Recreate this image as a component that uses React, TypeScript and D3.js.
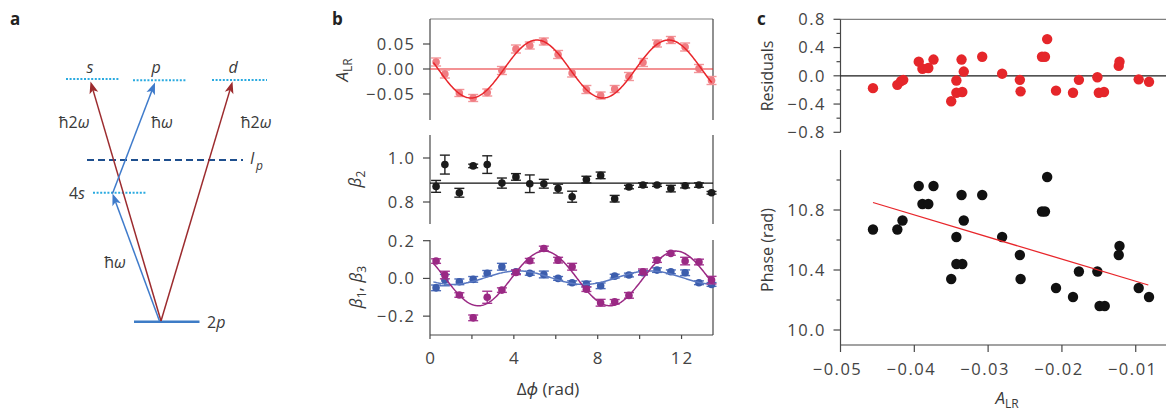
import React from "react"
import * as d3 from "d3"

// ---- panel b: phase delay (rad), shared by the three rows
const dphi = [0.29, 0.71, 1.4, 2.06, 2.73, 3.43, 4.1, 4.76, 5.43, 6.11, 6.78, 7.46, 8.14, 8.81, 9.49, 10.16, 10.83, 11.49, 12.17, 12.83, 13.43]

const aLR = [0.014, -0.01, -0.048, -0.058, -0.047, -0.003, 0.04, 0.047, 0.055, 0.029, -0.008, -0.041, -0.053, -0.04, -0.015, 0.013, 0.051, 0.058, 0.044, 0.001, -0.023]
const aLRErr = [0.008, 0.008, 0.007, 0.007, 0.007, 0.008, 0.008, 0.007, 0.007, 0.008, 0.008, 0.008, 0.007, 0.007, 0.008, 0.008, 0.007, 0.007, 0.008, 0.008, 0.008]

const beta2 = [0.871, 0.97, 0.842, 0.964, 0.97, 0.886, 0.914, 0.883, 0.883, 0.861, 0.824, 0.902, 0.921, 0.815, 0.868, 0.877, 0.877, 0.861, 0.874, 0.877, 0.842]
const beta2Err = [0.027, 0.043, 0.02, 0.008, 0.04, 0.023, 0.015, 0.04, 0.02, 0.02, 0.025, 0.015, 0.015, 0.015, 0.008, 0.01, 0.006, 0.015, 0.01, 0.01, 0.006]

const beta3 = [0.092, 0.018, -0.088, -0.209, -0.1, -0.062, 0.032, 0.094, 0.159, 0.097, 0.062, -0.057, -0.129, -0.124, -0.09, 0.035, 0.097, 0.133, 0.092, 0.087, -0.009]
const beta3Err = [0.012, 0.02, 0.012, 0.015, 0.032, 0.012, 0.012, 0.012, 0.012, 0.015, 0.018, 0.012, 0.018, 0.012, 0.015, 0.015, 0.012, 0.01, 0.02, 0.015, 0.02]

const beta1 = [-0.05, -0.009, -0.018, -0.005, 0.027, 0.062, 0.035, 0.027, 0.021, 0.0, -0.023, -0.03, -0.039, 0.012, 0.018, 0.03, 0.044, 0.035, 0.03, -0.023, -0.032]
const beta1Err = [0.015, 0.03, 0.015, 0.015, 0.015, 0.018, 0.01, 0.01, 0.018, 0.01, 0.01, 0.015, 0.015, 0.01, 0.01, 0.012, 0.012, 0.01, 0.015, 0.01, 0.01]

// fitted cosines: amp * cos(x - peak) + offset
const aLRFit = { amp: 0.058, peak: 5.1, offset: 0 }
const beta3Fit = { amp: 0.145, peak: 5.45, offset: 0 }
const beta1Fit = { amp: 0.036, peak: 4.2, offset: 0.004 }
const beta2Mean = 0.886

// ---- panel c
const alrC = [-0.0456, -0.0423, -0.0416, -0.0394, -0.0389, -0.0381, -0.0374, -0.035, -0.0343, -0.0343, -0.0335, -0.0336, -0.0333, -0.0308, -0.0281, -0.0257, -0.0256, -0.0227, -0.0223, -0.022, -0.0208, -0.0185, -0.0177, -0.0152, -0.0149, -0.0142, -0.0123, -0.0122, -0.0096, -0.0082]
const phase = [10.67, 10.67, 10.73, 10.96, 10.84, 10.84, 10.96, 10.34, 10.62, 10.44, 10.44, 10.9, 10.73, 10.9, 10.62, 10.5, 10.34, 10.79, 10.79, 11.02, 10.28, 10.22, 10.39, 10.39, 10.16, 10.16, 10.5, 10.56, 10.28, 10.22]
const residX = [-0.0456, -0.0423, -0.0418, -0.0415, -0.0394, -0.0389, -0.0381, -0.0374, -0.035, -0.0343, -0.0343, -0.0335, -0.0336, -0.0333, -0.0308, -0.0281, -0.0257, -0.0256, -0.0227, -0.0223, -0.022, -0.0208, -0.0185, -0.0177, -0.0152, -0.015, -0.0143, -0.0123, -0.0122, -0.0096, -0.0082]
const resid = [-0.175, -0.128, -0.076, -0.057, 0.2, 0.1, 0.11, 0.23, -0.36, -0.066, -0.24, -0.23, 0.23, 0.06, 0.27, 0.03, -0.057, -0.22, 0.27, 0.27, 0.52, -0.21, -0.24, -0.057, -0.02, -0.24, -0.23, 0.14, 0.2, -0.05, -0.085]
const phaseFitX = [-0.0456, -0.0083]
const phaseFitY = [10.85, 10.3]

const FONT = "'Open Sans', 'Noto Sans', sans-serif"
const INK = "#3a3a3a"
const TICK = "#444"
const AXIS = "#474747"
const TS = 16.5 // tick label size
const LS = 1.5 // tick label tracking

function YAxis({ scale, x, ticks, minor = [], fmt, y0, y1 }) {
	return (
		<g>
			<line x1={x} x2={x} y1={y0} y2={y1} stroke={AXIS} strokeWidth={1.2} />
			{ticks.map((t) => (
				<g key={t}>
					<line x1={x - 7} x2={x} y1={scale(t)} y2={scale(t)} stroke={AXIS} strokeWidth={1.2} />
					<text
						x={x - 16 + LS}
						y={scale(t)}
						dy="0.36em"
						textAnchor="end"
						fontSize={TS}
						letterSpacing={LS}
						fill={TICK}
						fontFamily={FONT}
					>
						{fmt(t)}
					</text>
				</g>
			))}
			{minor.map((t) => (
				<line key={"m" + t} x1={x - 4} x2={x} y1={scale(t)} y2={scale(t)} stroke={AXIS} strokeWidth={1.2} />
			))}
		</g>
	)
}

function ErrorPoints({ xs, ys, errs, xScale, yScale, color, barColor, r = 3.8 }) {
	return (
		<g>
			{xs.map((x, i) => {
				const cx = xScale(x)
				const top = yScale(ys[i] + errs[i])
				const bot = yScale(ys[i] - errs[i])
				return (
					<g key={i}>
						<line x1={cx} x2={cx} y1={top} y2={bot} stroke={barColor} strokeWidth={1.4} />
						<line x1={cx - 5} x2={cx + 5} y1={top} y2={top} stroke={barColor} strokeWidth={1.4} />
						<line x1={cx - 5} x2={cx + 5} y1={bot} y2={bot} stroke={barColor} strokeWidth={1.4} />
						<circle cx={cx} cy={yScale(ys[i])} r={r} fill={color} />
					</g>
				)
			})}
		</g>
	)
}

function fitPath(fit, xScale, yScale) {
	const xs = d3.range(0.16, 13.47, 0.04)
	return d3
		.line()
		.x((d) => xScale(d))
		.y((d) => yScale(fit.amp * Math.cos(d - fit.peak) + fit.offset))(xs)
}

function Arrow({ x1, y1, x2, y2, color }) {
	const ang = Math.atan2(y2 - y1, x2 - x1)
	const len = 12
	const hw = 4.5
	const bx = x2 - len * Math.cos(ang)
	const by = y2 - len * Math.sin(ang)
	const nx = x2 - (len - 3) * Math.cos(ang)
	const ny = y2 - (len - 3) * Math.sin(ang)
	const px = -Math.sin(ang) * hw
	const py = Math.cos(ang) * hw
	return (
		<g>
			<line x1={x1} y1={y1} x2={nx} y2={ny} stroke={color} strokeWidth={1.5} />
			<path d={`M${x2},${y2} L${bx + px},${by + py} L${nx},${ny} L${bx - px},${by - py} Z`} fill={color} />
		</g>
	)
}

function PanelA() {
	const red = "#9C2B2E"
	const blue = "#3F7BCB"
	const dotted = "#2AAAE0"
	const lbl = { fontFamily: FONT, fontSize: 16, fill: INK }
	return (
		<g>
			<text x={10} y={25} fontFamily={FONT} fontWeight="bold" fontSize={17} fill="#222">a</text>
			{/* levels */}
			<line x1={66} x2={120} y1={79} y2={79} stroke={dotted} strokeWidth={2} strokeDasharray="2,1.6" />
			<line x1={133} x2={187} y1={80.3} y2={80.3} stroke={dotted} strokeWidth={2} strokeDasharray="2,1.6" />
			<line x1={212} x2={267} y1={80} y2={80} stroke={dotted} strokeWidth={2} strokeDasharray="2,1.6" />
			<line x1={93} x2={147} y1={192.7} y2={192.7} stroke={dotted} strokeWidth={2} strokeDasharray="2,1.6" />
			<line x1={87} x2={243} y1={160} y2={160} stroke="#1E4F8E" strokeWidth={2} strokeDasharray="7,4" />
			<line x1={134} x2={199.5} y1={321.7} y2={321.7} stroke="#3E7CC6" strokeWidth={2.6} />
			{/* transitions */}
			<Arrow x1={161} y1={321} x2={90.5} y2={81.5} color={red} />
			<Arrow x1={161} y1={321} x2={232.5} y2={81.5} color={red} />
			<Arrow x1={159.5} y1={321} x2={112.5} y2={193.5} color={blue} />
			<Arrow x1={112.5} y1={193.5} x2={155} y2={82.5} color={blue} />
			{/* labels */}
			<text x={90} y={73} textAnchor="middle" fontStyle="italic" {...lbl}>s</text>
			<text x={156} y={73} textAnchor="middle" fontStyle="italic" {...lbl}>p</text>
			<text x={233} y={73} textAnchor="middle" fontStyle="italic" {...lbl}>d</text>
			<text x={74} y={128} textAnchor="middle" {...lbl}>ħ2<tspan fontStyle="italic">ω</tspan></text>
			<text x={162} y={128} textAnchor="middle" {...lbl}>ħ<tspan fontStyle="italic">ω</tspan></text>
			<text x={256} y={128} textAnchor="middle" {...lbl}>ħ2<tspan fontStyle="italic">ω</tspan></text>
			<text x={115} y={268} textAnchor="middle" {...lbl}>ħ<tspan fontStyle="italic">ω</tspan></text>
			<text x={250} y={164} fontStyle="italic" {...lbl}>I</text>
			<text x={256} y={170} fontStyle="italic" {...lbl} fontSize={12}>p</text>
			<text x={85} y={199} textAnchor="end" {...lbl}>4<tspan fontStyle="italic">s</tspan></text>
			<text x={207} y={328} {...lbl}>2<tspan fontStyle="italic">p</tspan></text>
		</g>
	)
}

function PanelB() {
	const x = d3.scaleLinear().domain([0, 13.5]).range([430, 713])
	const yTop = d3.scaleLinear().domain([-0.1, 0.1]).range([119, 19])
	const yMid = d3.scaleLinear().domain([0.7, 1.1]).range([224, 136])
	const yBot = d3.scaleLinear().domain([-0.3, 0.2]).range([335, 240.7])
	const [xl, xr] = x.range()
	const f2 = d3.format(".2f")
	const f1 = d3.format(".1f")
	return (
		<g>
			<text x={332} y={25} fontFamily={FONT} fontWeight="bold" fontSize={17} fill="#222">b</text>

			{/* top: A_LR */}
			<line x1={xl} x2={xr} y1={19} y2={19} stroke="#808080" strokeWidth={1.2} />
			<line x1={xr} x2={xr} y1={19} y2={120} stroke={AXIS} strokeWidth={1.2} />
			<YAxis scale={yTop} x={xl} ticks={[0.05, 0, -0.05]} fmt={f2} y0={19} y1={120} />
			<line x1={xl} x2={xr} y1={yTop(0)} y2={yTop(0)} stroke="#E8262B" strokeWidth={1.2} />
			<ErrorPoints xs={dphi} ys={aLR} errs={aLRErr} xScale={x} yScale={yTop} color="#F07C82" barColor="#F29599" />
			<path d={fitPath(aLRFit, x, yTop)} fill="none" stroke="#E8262B" strokeWidth={1.5} />
			<text transform={`translate(348,${70}) rotate(-90)`} textAnchor="middle" fontFamily={FONT} fontSize={17} fill={INK}>
				<tspan fontStyle="italic">A</tspan>
				<tspan fontSize={12} dy={4}>LR</tspan>
			</text>

			{/* middle: beta2 */}
			<line x1={xr} x2={xr} y1={135} y2={224} stroke={AXIS} strokeWidth={1.2} />
			<YAxis scale={yMid} x={xl} ticks={[1.0, 0.8]} fmt={f1} y0={135} y1={224} />
			<line x1={xl} x2={xr} y1={yMid(beta2Mean)} y2={yMid(beta2Mean)} stroke="#111" strokeWidth={1.2} />
			<ErrorPoints xs={dphi} ys={beta2} errs={beta2Err} xScale={x} yScale={yMid} color="#1b1b1b" barColor="#222" />
			<text transform={`translate(361,${179}) rotate(-90)`} textAnchor="middle" fontFamily={FONT} fontSize={17} fill={INK}>
				<tspan fontStyle="italic">β</tspan>
				<tspan fontSize={12} dy={4}>2</tspan>
			</text>

			{/* bottom: beta1, beta3 */}
			<line x1={xr} x2={xr} y1={240} y2={335} stroke={AXIS} strokeWidth={1.2} />
			<YAxis scale={yBot} x={xl} ticks={[0.2, 0, -0.2]} fmt={f1} y0={240} y1={335} />
			<line x1={xl} x2={xr} y1={335} y2={335} stroke={AXIS} strokeWidth={1.2} />
			{[0, 2, 4, 6, 8, 10, 12].map((t) => (
				<line key={t} x1={x(t)} x2={x(t)} y1={335} y2={339} stroke={AXIS} strokeWidth={1.2} />
			))}
			{[0, 4, 8, 12].map((t) => (
				<text
					key={t}
					x={x(t) + 1}
					y={364}
					textAnchor="middle"
					fontFamily={FONT}
					fontSize={17}
					letterSpacing={2}
					fill={TICK}
				>
					{t}
				</text>
			))}
			<ErrorPoints xs={dphi} ys={beta1} errs={beta1Err} xScale={x} yScale={yBot} color="#3C5DAD" barColor="#4D6DBA" />
			<path d={fitPath(beta1Fit, x, yBot)} fill="none" stroke="#5A79C2" strokeWidth={1.5} />
			<ErrorPoints xs={dphi} ys={beta3} errs={beta3Err} xScale={x} yScale={yBot} color="#9A2984" barColor="#A53791" />
			<path d={fitPath(beta3Fit, x, yBot)} fill="none" stroke="#9A2984" strokeWidth={1.5} />
			<text transform={`translate(362,${287}) rotate(-90)`} textAnchor="middle" fontFamily={FONT} fontSize={17} fill={INK}>
				<tspan fontStyle="italic">β</tspan>
				<tspan fontSize={12} dy={4}>1</tspan>
				<tspan dy={-4}>, </tspan>
				<tspan fontStyle="italic">β</tspan>
				<tspan fontSize={12} dy={4}>3</tspan>
			</text>
			<text x={548} y={395} textAnchor="middle" fontFamily={FONT} fontSize={17} fill={INK}>
				Δ<tspan fontStyle="italic">ϕ</tspan> (rad)
			</text>
		</g>
	)
}

function PanelC() {
	const x = d3.scaleLinear().domain([-0.05, -0.0059]).range([840.5, 1166])
	const yRes = d3.scaleLinear().domain([-0.8, 0.8]).range([132.3, 19.3])
	const yPh = d3.scaleLinear().domain([9.9, 11.2]).range([345, 150])
	const [xl, xr] = x.range()
	const f1 = d3.format(".1f")
	const f2 = d3.format(".2f")
	const fitLine = d3
		.line()
		.x((d) => x(d[0]))
		.y((d) => yPh(d[1]))(phaseFitX.map((v, i) => [v, phaseFitY[i]]))
	return (
		<g>
			<text x={757} y={25} fontFamily={FONT} fontWeight="bold" fontSize={17} fill="#222">c</text>

			{/* residuals */}
			<line x1={xl} x2={xr} y1={19.3} y2={19.3} stroke="#808080" strokeWidth={1.2} />
			<YAxis scale={yRes} x={xl} ticks={[0.8, 0.4, 0, -0.4, -0.8]} minor={[0.6, 0.2, -0.2, -0.6]} fmt={f1} y0={19.3} y1={132.3} />
			<line x1={xl} x2={xr} y1={yRes(0)} y2={yRes(0)} stroke="#1a1a1a" strokeWidth={1.2} />
			{residX.map((v, i) => (
				<circle key={i} cx={x(v)} cy={yRes(resid[i])} r={5.2} fill="#E5262A" />
			))}
			<text transform={`translate(773,76) rotate(-90)`} textAnchor="middle" fontFamily={FONT} fontSize={16} fill={INK}>
				Residuals
			</text>

			{/* phase vs A_LR */}
			<YAxis scale={yPh} x={xl} ticks={[10.8, 10.4, 10.0]} minor={[11.0, 10.6, 10.2]} fmt={f1} y0={150} y1={345} />
			<line x1={xl} x2={xr} y1={345} y2={345} stroke={AXIS} strokeWidth={1.2} />
			{[-0.05, -0.04, -0.03, -0.02, -0.01].map((t) => (
				<g key={t}>
					<line x1={x(t)} x2={x(t)} y1={345} y2={352} stroke={AXIS} strokeWidth={1.2} />
					<text
						x={x(t) - 3}
						y={375}
						textAnchor="middle"
						fontFamily={FONT}
						fontSize={TS}
						letterSpacing={LS}
						fill={TICK}
					>
						{f2(t)}
					</text>
				</g>
			))}
			{alrC.map((v, i) => (
				<circle key={i} cx={x(v)} cy={yPh(phase[i])} r={5.2} fill="#111" />
			))}
			<path d={fitLine} stroke="#E8262B" strokeWidth={1.3} fill="none" />
			<text transform={`translate(773,250) rotate(-90)`} textAnchor="middle" fontFamily={FONT} fontSize={16} fill={INK}>
				Phase (rad)
			</text>
			<text x={1007} y={404} textAnchor="middle" fontFamily={FONT} fontSize={17} fill={INK}>
				<tspan fontStyle="italic">A</tspan>
				<tspan fontSize={12} dy={4}>LR</tspan>
			</text>
		</g>
	)
}

export default function App() {
	return (
		<svg
			width={1166}
			height={413}
			viewBox="0 0 1166 413"
			style={{ position: "absolute", left: 0, top: 0, background: "#fff" }}
		>
			<PanelA />
			<PanelB />
			<PanelC />
		</svg>
	)
}
